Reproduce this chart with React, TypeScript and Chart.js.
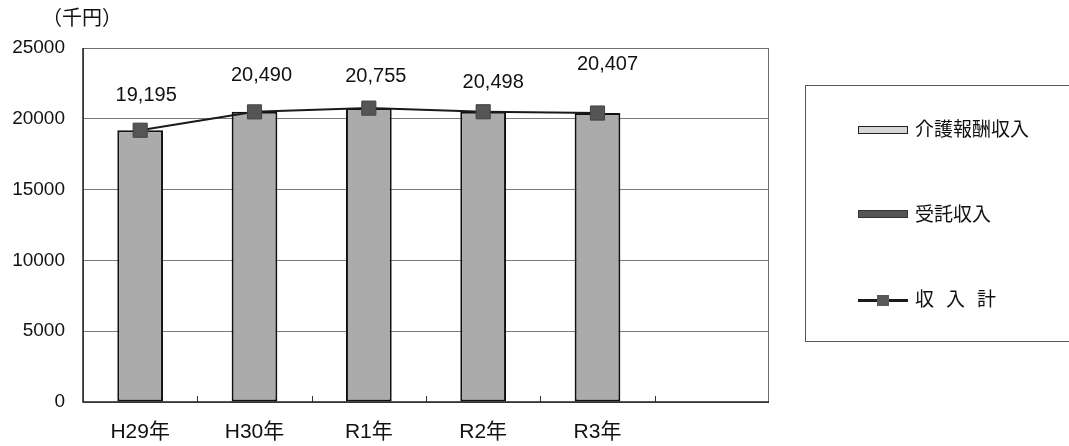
import React, { useEffect, useRef } from "react";
import { Chart, registerables } from "chart.js";

Chart.register(...registerables);

const categories = ["H29年", "H30年", "R1年", "R2年", "R3年", ""];
const kaigoIncome = [19195, 20490, 20755, 20498, 20407];
const itakuIncome = [0, 0, 0, 0, 0];
const totalIncome = kaigoIncome.map((v, i) => v + itakuIncome[i]);
const yTicks = [0, 5000, 10000, 15000, 20000, 25000];

// label nudges [dx, dy] relative to the marker
const labelNudges = [
  [6, -35],
  [7, -36],
  [7, -32],
  [10, -29],
  [10, -49],
];

const FONT = '"Liberation Sans", Arial, "Noto Sans CJK JP", sans-serif';

const overlayPlugin = {
  id: "overlay",
  beforeDatasetsDraw(chart: any) {
    const { ctx, chartArea: a, scales } = chart;
    ctx.save();
    ctx.strokeStyle = "#6e6e6e";
    ctx.lineWidth = 1;
    ctx.strokeRect(a.left + 0.5, a.top + 0.5, a.right - a.left - 1, a.bottom - a.top);
    ctx.strokeStyle = "#222";
    ctx.lineWidth = 1.5;
    ctx.beginPath();
    ctx.moveTo(a.left, a.top);
    ctx.lineTo(a.left, a.bottom);
    ctx.lineTo(a.right, a.bottom);
    ctx.stroke();
    const x = scales.x;
    ctx.lineWidth = 1;
    ctx.strokeStyle = "#333";
    for (let i = 1; i < categories.length; i++) {
      const px = Math.round((x.getPixelForValue(i - 1) + x.getPixelForValue(i)) / 2) + 0.5;
      ctx.beginPath();
      ctx.moveTo(px, a.bottom);
      ctx.lineTo(px, a.bottom - 6);
      ctx.stroke();
    }
    ctx.restore();
  },
  afterDatasetsDraw(chart: any) {
    const { ctx } = chart;
    const meta = chart.getDatasetMeta(2);
    ctx.save();
    ctx.font = `20px ${FONT}`;
    ctx.fillStyle = "#111";
    ctx.textAlign = "center";
    ctx.textBaseline = "middle";
    meta.data.forEach((pt: any, i: number) => {
      const n = labelNudges[i] || [0, -34];
      ctx.fillText(totalIncome[i].toLocaleString("en-US"), pt.x + n[0], pt.y + n[1]);
    });
    ctx.restore();
  },
};

export default function App() {
  const ref = useRef<HTMLCanvasElement>(null);
  useEffect(() => {
    document.body.style.margin = "0";
    const chart = new Chart(ref.current!, {
      type: "bar",
      data: {
        labels: categories,
        datasets: [
          {
            type: "bar",
            label: "介護報酬収入",
            data: kaigoIncome,
            backgroundColor: "#ababab",
            borderColor: "#111",
            borderWidth: 2,
            borderSkipped: false,
            barPercentage: 0.4,
            categoryPercentage: 1,
            stack: "s",
            order: 2,
          },
          {
            type: "bar",
            label: "受託収入",
            data: itakuIncome,
            backgroundColor: "#555",
            borderColor: "#222",
            borderWidth: 0,
            barPercentage: 0.4,
            categoryPercentage: 1,
            stack: "s",
            order: 1,
          },
          {
            type: "line",
            label: "収入計",
            data: totalIncome,
            borderColor: "#1a1a1a",
            borderWidth: 2,
            pointStyle: "rect",
            pointRadius: 10,
            pointBackgroundColor: "#555",
            pointBorderColor: "#444",
            pointBorderWidth: 1,
            stack: "line",
            order: 0,
          } as any,
        ],
      },
      options: {
        animation: false,
        responsive: false,
        maintainAspectRatio: false,
        layout: { padding: { left: 0, top: 48, right: 300, bottom: 0 } },
        plugins: { legend: { display: false }, tooltip: { enabled: false } },
        scales: {
          x: {
            stacked: true,
            offset: true,
            grid: { display: false, drawTicks: false },
            border: { display: false },
            ticks: {
              padding: 18,
              color: "#111",
              font: { size: 21, family: FONT },
              maxRotation: 0,
              autoSkip: false,
            },
            afterFit(s: any) {
              s.height = 44;
            },
          },
          y: {
            stacked: true,
            min: 0,
            max: 25000,
            afterBuildTicks(s: any) {
              s.ticks = yTicks.map((v) => ({ value: v }));
            },
            grid: { color: "#7a7a7a", lineWidth: 1, drawTicks: false },
            border: { display: false },
            ticks: {
              padding: 18,
              color: "#111",
              font: { size: 19, family: FONT },
              callback: (v: any) => String(v),
            },
            afterFit(s: any) {
              s.width = 83;
            },
          },
        },
      },
      plugins: [overlayPlugin],
    });
    return () => chart.destroy();
  }, []);

  const legendText: React.CSSProperties = {
    position: "absolute",
    left: 915,
    fontSize: 19,
    fontFamily: FONT,
    color: "#111",
    lineHeight: "24px",
    whiteSpace: "nowrap",
  };

  return (
    <div style={{ position: "relative", width: 1069, height: 446, overflow: "hidden", background: "#fff" }}>
      <canvas ref={ref} width={1069} height={446} style={{ position: "absolute", left: 0, top: 0 }} />
      <div style={{ position: "absolute", left: 42, top: 5, fontSize: 20, fontFamily: FONT, color: "#111", lineHeight: "26px" }}>
        （千円）
      </div>
      <div
        style={{
          position: "absolute",
          left: 805,
          top: 85,
          width: 320,
          height: 257,
          border: "1px solid #555",
          boxSizing: "border-box",
        }}
      />
      <div style={{ position: "absolute", left: 858, top: 126, width: 50, height: 8, background: "#d6d6d6", border: "1.5px solid #222", boxSizing: "border-box" }} />
      <div style={{ ...legendText, top: 118 }}>介護報酬収入</div>
      <div style={{ position: "absolute", left: 858, top: 210, width: 50, height: 8, background: "#555", border: "1.5px solid #333", boxSizing: "border-box" }} />
      <div style={{ ...legendText, top: 203 }}>受託収入</div>
      <div style={{ position: "absolute", left: 858, top: 299, width: 50, height: 3, background: "#1a1a1a" }} />
      <div style={{ position: "absolute", left: 877, top: 295, width: 12, height: 11, background: "#595959" }} />
      <div style={{ ...legendText, top: 288 }}>
        <span style={{ marginRight: 12 }}>収</span>
        <span style={{ marginRight: 12 }}>入</span>
        <span>計</span>
      </div>
    </div>
  );
}
